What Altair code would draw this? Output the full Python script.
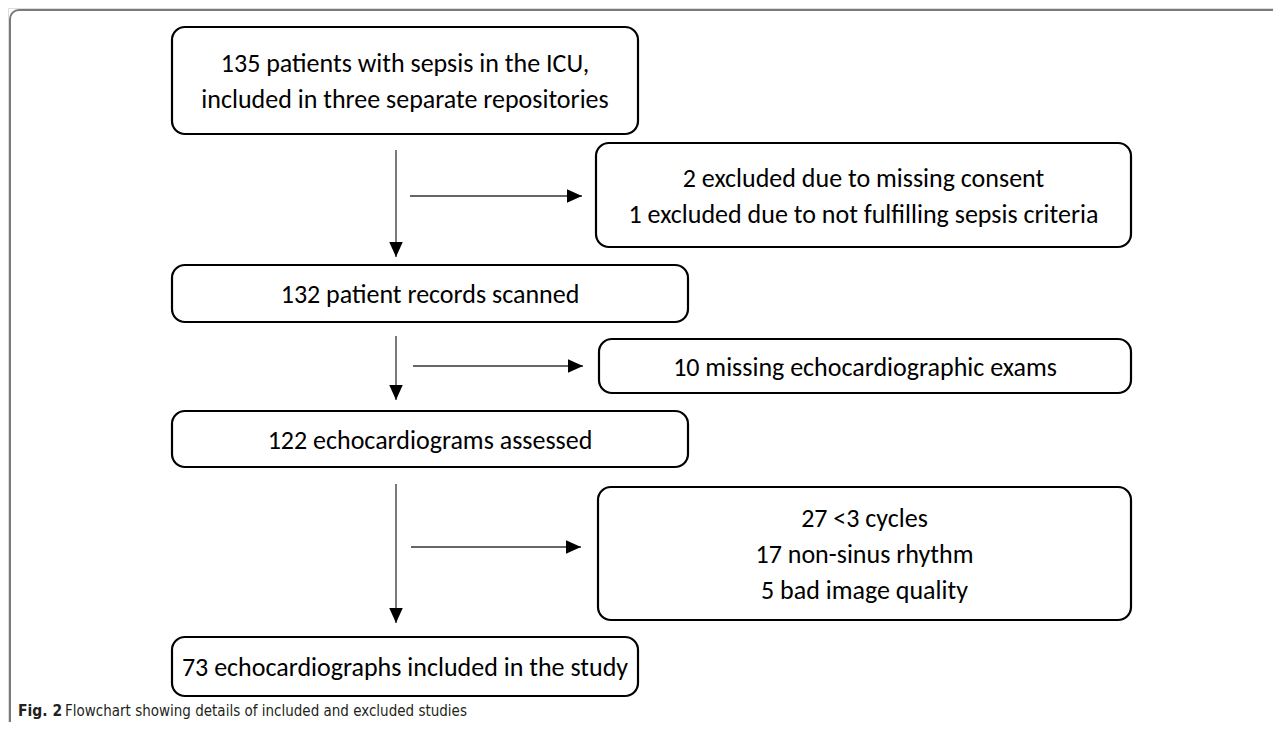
import altair as alt
import pandas as pd

# ---- content ----
box_texts = [
    "135 patients with sepsis in the ICU,\nincluded in three separate repositories",
    "2 excluded due to missing consent\n1 excluded due to not fulfilling sepsis criteria",
    "132 patient records scanned",
    "10 missing echocardiographic exams",
    "122 echocardiograms assessed",
    "27 <3 cycles\n17 non-sinus rhythm\n5 bad image quality",
    "73 echocardiographs included in the study",
]
caption_bold = "Fig. 2"
caption_text = "Flowchart showing details of included and excluded studies"

# ---- layout (page pixel coordinates) ----
box_x0 = [172, 596, 172, 599, 172, 598, 172]
box_x1 = [638, 1131, 688, 1131, 688, 1131, 638]
box_y0 = [27, 143, 265, 339, 411, 487, 637]
box_y1 = [134, 247, 322, 393, 467, 620, 696]

v_x = [396, 396, 396]
v_y0 = [150, 336, 484]
v_y1 = [257, 400, 623]

h_y = [196, 366, 547]
h_x0 = [410, 413, 411]
h_x1 = [582, 583, 581]

LH = 36
W, H = 1265, 714
X = alt.Scale(domain=[8, 8 + W], range=[0, W], nice=False, zero=False)
Y = alt.Scale(domain=[8, 8 + H], range=[0, H], nice=False, zero=False)

boxes = pd.DataFrame({
    "text": box_texts,
    "x0": box_x0, "x1": box_x1, "y0": box_y0, "y1": box_y1,
})
boxes["nl"] = boxes.text.str.count("\n")
boxes["xc"] = (boxes.x0 + boxes.x1) / 2
boxes["yc"] = (boxes.y0 + boxes.y1) / 2 + 1.5 - boxes.nl * LH / 2

vdf = pd.DataFrame({"x": v_x, "y0": v_y0, "y1": v_y1})
hdf = pd.DataFrame({"y": h_y, "x0": h_x0, "x1": h_x1})

frame = alt.Chart(pd.DataFrame({"x0": [10], "x1": [1320], "y0": [10], "y1": [732]})).mark_rect(
    fill="white", stroke="#7a7a7a", strokeWidth=2, cornerRadius=9
).encode(
    x=alt.X("x0:Q", scale=X, axis=None), x2="x1:Q",
    y=alt.Y("y0:Q", scale=Y, axis=None), y2="y1:Q",
)

rects = alt.Chart(boxes).mark_rect(
    fill="white", stroke="black", strokeWidth=2.2, cornerRadius=13
).encode(
    x=alt.X("x0:Q", scale=X, axis=None), x2="x1:Q",
    y=alt.Y("y0:Q", scale=Y, axis=None), y2="y1:Q",
)

labels = alt.Chart(boxes).mark_text(
    font="Carlito, Lato, sans-serif", fontSize=26, color="black",
    align="center", baseline="middle", lineBreak="\n", lineHeight=LH,
).encode(
    x=alt.X("xc:Q", scale=X, axis=None),
    y=alt.Y("yc:Q", scale=Y, axis=None),
    text="text:N",
)

vlines = alt.Chart(vdf).mark_rule(color="#333333", strokeWidth=1.3).encode(
    x=alt.X("x:Q", scale=X, axis=None),
    y=alt.Y("y0:Q", scale=Y, axis=None), y2="y1:Q",
)
vheads = alt.Chart(vdf).mark_point(
    shape="M0,0L-0.45,-1L0.45,-1Z", filled=True, size=900, color="black", opacity=1
).encode(
    x=alt.X("x:Q", scale=X, axis=None),
    y=alt.Y("y1:Q", scale=Y, axis=None),
)

hlines = alt.Chart(hdf).mark_rule(color="#333333", strokeWidth=1.3).encode(
    x=alt.X("x0:Q", scale=X, axis=None), x2="x1:Q",
    y=alt.Y("y:Q", scale=Y, axis=None),
)
hheads = alt.Chart(hdf).mark_point(
    shape="M0,0L-1,-0.45L-1,0.45Z", filled=True, size=900, color="black", opacity=1
).encode(
    x=alt.X("x1:Q", scale=X, axis=None),
    y=alt.Y("y:Q", scale=Y, axis=None),
)

cap = pd.DataFrame({"t": [caption_bold], "x": [18], "y": [716]})
cap2 = pd.DataFrame({"t": [caption_text], "x": [65], "y": [716]})
capb = alt.Chart(cap).mark_text(
    font="Liberation Sans Narrow, DejaVu Sans Condensed, sans-serif", fontSize=15.5,
    fontWeight="bold", align="left", baseline="alphabetic", color="#231f20",
).encode(x=alt.X("x:Q", scale=X, axis=None), y=alt.Y("y:Q", scale=Y, axis=None), text="t:N")
capr = alt.Chart(cap2).mark_text(
    font="Liberation Sans Narrow, DejaVu Sans Condensed, sans-serif", fontSize=15,
    align="left", baseline="alphabetic", color="#231f20",
).encode(x=alt.X("x:Q", scale=X, axis=None), y=alt.Y("y:Q", scale=Y, axis=None), text="t:N")

chart = alt.layer(frame, rects, labels, vlines, vheads, hlines, hheads, capb, capr).properties(
    width=W, height=H, padding=0, autosize="none"
).configure_view(stroke=None).configure(background="white")

chart.save("out.html", embed_options={"renderer": "svg", "actions": False})
